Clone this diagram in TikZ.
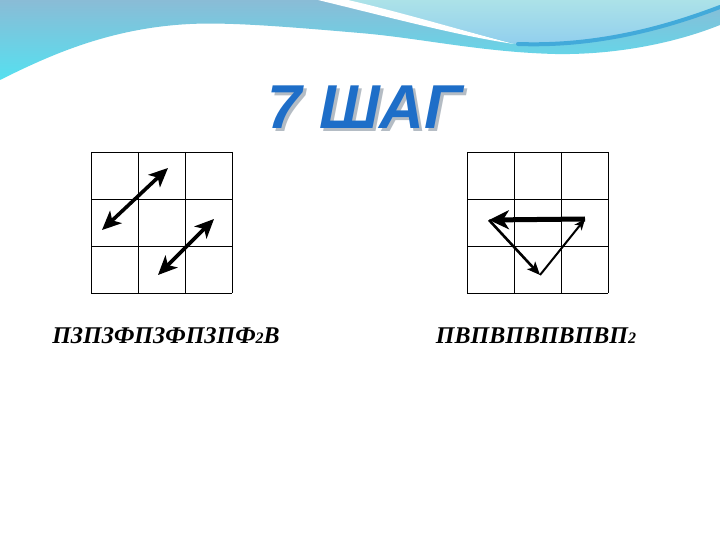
\documentclass[tikz,border=0pt]{standalone}
\usepackage{fontspec}
\setmainfont{Liberation Serif}
\newfontfamily\titlefont{Liberation Sans}
\usetikzlibrary{arrows.meta}

\definecolor{titleblue}{HTML}{1E6EC8}
\definecolor{titleshade}{HTML}{B4BCC4}
\definecolor{wavetop}{HTML}{8ABCD6}
\definecolor{wavebottom}{HTML}{55E0F0}
\definecolor{lighttop}{HTML}{ACE2E8}
\definecolor{lightbottom}{HTML}{90CEEE}
\definecolor{streak}{HTML}{42AADA}

\newcommand{\smalltwo}{{\fontsize{16}{18}\selectfont 2}}

\begin{document}
\begin{tikzpicture}[x=1pt,y=-1pt,
		cell/.style={draw=black,line width=0.9pt},
		bothmove/.style={line width=3.6pt,{Stealth[length=19pt,width=17pt,inset=5pt]}-{Stealth[length=19pt,width=17pt,inset=5pt]}},
		steptext/.style={anchor=base,inner sep=0pt,font=\bfseries\itshape\fontsize{24}{28}\selectfont}]

		\useasboundingbox (0,0) rectangle (720,540);
		\fill[white] (0,0) rectangle (720,540);

		\shade[top color=wavetop,bottom color=wavebottom]
			(0,0)--(720,0)--(720,25)
			.. controls (670,45) and (610,55) .. (555,54)
			.. controls (480,52) and (420,38) .. (360,33)
			.. controls (290,27) and (230,22) .. (190,24)
			.. controls (110,28) and (50,55) .. (0,80)--cycle;
		\shade[top color=lighttop,bottom color=lightbottom]
			(335,0)--(720,0)--(720,6)
			.. controls (670,25) and (600,46) .. (516,44)
			.. controls (460,30) and (400,12) .. (335,0)--cycle;
		\fill[white]
			(318,0) .. controls (400,20) and (460,36) .. (514,44)
			.. controls (460,30) and (400,12) .. (348,0)--cycle;
		\draw[streak,line width=4pt,line cap=round]
			(518,44) .. controls (600,47) and (670,26) .. (720,7);

		\node (titleshadow) at (368,110) {\titlefont\bfseries\itshape\fontsize{62}{70}\selectfont\color{titleshade}7 ШАГ};
		\node (title) at (365,107) {\titlefont\bfseries\itshape\fontsize{62}{70}\selectfont\color{titleblue}7 ШАГ};

		\begin{scope}[shift={(91,152)}]
			\foreach \i in {0,...,3} {
				\draw[cell] (47*\i,0)--(47*\i,141);
				\draw[cell] (0,47*\i)--(141,47*\i);
			}
		\end{scope}

		\begin{scope}[shift={(467,152)}]
			\foreach \i in {0,...,3} {
				\draw[cell] (47*\i,0)--(47*\i,141);
				\draw[cell] (0,47*\i)--(141,47*\i);
			}
		\end{scope}

		\coordinate (l1a) at (102,230);
		\coordinate (l1b) at (168,168);
		\coordinate (l2a) at (158,275);
		\coordinate (l2b) at (214,219);

		\coordinate (rright) at (585,219);
		\coordinate (rleft) at (489,220);
		\coordinate (rdown) at (540,275);

		\draw[bothmove] (l1a)--(l1b);
		\draw[bothmove] (l2a)--(l2b);

		\draw[line width=5pt,-{Stealth[length=20pt,width=19pt,inset=6pt]}] (rright)--(rleft);
		\draw[line width=2.6pt,-{Stealth[length=13pt,width=11pt,inset=3pt]}] (rleft)--(rdown);
		\draw[line width=2pt,-{Stealth[length=11pt,width=9pt,inset=3pt]}] (rdown)--(rright);

		\node[steptext] (leftcode) at (166,343) {ПЗПЗФПЗФПЗПФ\smalltwo В};
		\node[steptext] (rightcode) at (536,343) {ПВПВПВПВПВП\smalltwo};
	\end{tikzpicture}
\end{document}
